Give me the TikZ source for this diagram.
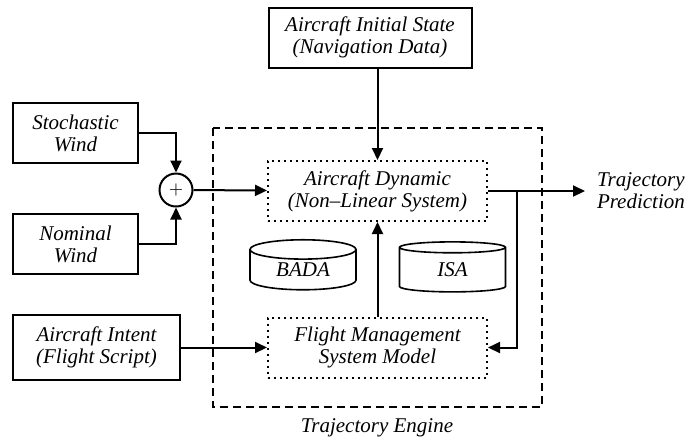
\documentclass[tikz,border=0pt]{standalone}
\usepackage{fontspec}
\setmainfont{Liberation Serif}
\usetikzlibrary{arrows.meta, shapes.geometric}

\begin{document}
\begin{tikzpicture}[
                    x=0.5pt, y=-0.5pt,
                    line width=1pt,
                    >={Triangle[length=6pt, width=5.5pt]},
                    every node/.style={font=\fontsize{10.5}{11}\selectfont\itshape, align=center},
                    inbox/.style={draw, line width=1pt, minimum width=62.5pt, minimum height=30pt, inner sep=1pt},
                    subbox/.style={draw, dotted, line width=1pt, minimum width=109.5pt, minimum height=30pt, inner sep=1pt},
                    database/.style={draw, cylinder, shape border rotate=90, aspect=0.36, line width=0.8pt,
                                     minimum width=53pt, minimum height=25pt, inner sep=0pt},
                    sumnode/.style={draw, circle, minimum size=16.5pt, inner sep=0pt, font=\small}
                ]
                  \useasboundingbox (0,0) rectangle (688,440);

                  % trajectory engine
                  \draw[dashed, dash pattern=on 4pt off 2.5pt, line width=1pt] (213,128) rectangle (542,407);
                  \node (engine) at (377,428) {Trajectory Engine};

                  % inputs
                  \node[inbox, minimum width=101.5pt] (init) at (370,37.5) {Aircraft Initial State\\(Navigation Data)};
                  \node[inbox] (stoch) at (75.5,133) {Stochastic\\Wind};
                  \node[inbox] (nom) at (75.5,244) {Nominal\\Wind};
                  \node[inbox, minimum width=83.5pt, minimum height=32.5pt] (intent) at (96.5,347.5) {Aircraft Intent\\(Flight Script)};
                  \node[sumnode] (sum) at (176,190) {$+$};

                  % engine parts
                  \node[subbox] (dyn) at (377.5,191) {Aircraft Dynamic\\(Non--Linear System)};
                  \node[subbox] (fms) at (377.5,347.5) {Flight Management\\System Model};
                  \node[database] (bada) at (303,270) {BADA};
                  \node[database] (isa) at (452.5,270) {ISA};

                  % output
                  \node[anchor=west, inner sep=0pt] (pred) at (596,191) {Trajectory\\Prediction};
                  \coordinate (out) at (585,191);
                  \coordinate (split) at (517,191);

                  \draw[->] (init.south -| dyn.north) -- (dyn.north);
                  \draw[->] (stoch.east) -| (sum.north);
                  \draw[->] (nom.east) -| (sum.south);
                  \draw[->] (sum) -- (dyn);
                  \draw[->] (intent) -- (fms);
                  \draw[->] (fms) -- (dyn);
                  \draw[->] (dyn) -- (out);
                  \draw[->] (split) |- (fms.east);
                \end{tikzpicture}
\end{document}
